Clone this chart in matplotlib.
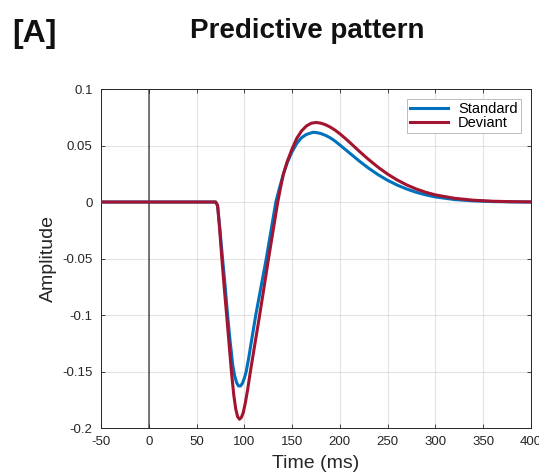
import matplotlib
matplotlib.use("Agg")
import matplotlib.pyplot as plt

plt.rcParams['font.family'] = ['Liberation Sans', 'DejaVu Sans']

# values
t_std = [-50, 0, 50, 70, 72, 74, 77, 80, 82.5, 85, 88, 90, 92, 94, 96, 98, 100,
         102, 104.5, 107, 112, 117.5, 123, 128, 133, 137, 141, 145, 150, 155,
         160, 165, 172, 176, 180, 185, 190, 195, 200, 205, 210, 215, 220, 225,
         230, 240, 250, 260, 270, 280, 290, 300, 320, 340, 360, 380, 400]
amp_std = [0, 0, 0, 0, -0.003, -0.02, -0.048, -0.075, -0.1, -0.122, -0.145,
           -0.154, -0.16, -0.1628, -0.1628, -0.1605, -0.156, -0.15, -0.1385,
           -0.1255, -0.1, -0.075, -0.05, -0.025, 0, 0.013, 0.025, 0.035, 0.0445,
           0.052, 0.057, 0.0598, 0.0617, 0.0614, 0.0606, 0.059, 0.0568, 0.0539,
           0.0505, 0.047, 0.0435, 0.04, 0.0365, 0.0332, 0.03, 0.0242, 0.0192,
           0.015, 0.0115, 0.0086, 0.0063, 0.0045, 0.0022, 0.001, 0.0004,
           0.0001, 0]

t_dev = [-50, 0, 50, 70, 72, 74, 76.5, 79, 81.5, 84, 86.5, 89, 91, 93, 95, 97,
         99, 101, 103.5, 106, 111, 115.5, 120, 125, 130, 135, 138, 141, 145, 150,
         155, 160, 165, 170, 175, 180, 185, 190, 195, 200, 205, 210, 215, 220,
         225, 230, 240, 250, 260, 270, 280, 290, 300, 320, 340, 360, 380, 400]
amp_dev = [0, 0, 0, 0, -0.003, -0.022, -0.05, -0.076, -0.1, -0.125, -0.15,
           -0.171, -0.183, -0.19, -0.1922, -0.1905, -0.186, -0.178, -0.166,
           -0.152, -0.126, -0.103, -0.079, -0.052, -0.026, 0, 0.013, 0.025,
           0.036, 0.047, 0.0565, 0.063, 0.0673, 0.0697, 0.0704, 0.0698, 0.0684,
           0.0663, 0.0636, 0.0604, 0.0568, 0.053, 0.0491, 0.0452, 0.0414,
           0.0377, 0.0308, 0.0247, 0.0195, 0.0151, 0.0115, 0.0086, 0.0063,
           0.0033, 0.0016, 0.0007, 0.0003, 0.0001]

xticks = [-50, 0, 50, 100, 150, 200, 250, 300, 350, 400]
yticks = [-0.2, -0.15, -0.1, -0.05, 0, 0.05, 0.1]
ytick_labels = ['-0.2', '-0.15', '-0.1', '-0.05', '0', '0.05', '0.1']

BLUE = '#0072BD'
RED = '#A2142F'
AXC = '#262626'

fig = plt.figure(figsize=(5.39, 4.75), dpi=100)
ax = fig.add_axes([0.1874, 0.0989, 0.7976, 0.7137])

ax.axvline(0, color='#555555', lw=1.1, zorder=1)
ax.plot(t_std, amp_std, color=BLUE, lw=2.2, label='Standard', zorder=3)
ax.plot(t_dev, amp_dev, color=RED, lw=2.2, label='Deviant', zorder=4)

ax.set_xlim(-50, 400)
ax.set_ylim(-0.2, 0.1)
ax.set_xticks(xticks)
ax.set_xticklabels([str(v) for v in xticks])
ax.set_yticks(yticks)
ax.set_yticklabels(ytick_labels)
ax.grid(True, color='#262626', alpha=0.12, lw=0.8)
ax.tick_params(direction='in', top=True, right=True, length=3, width=0.6,
               labelsize=9.5, colors=AXC)
ax.tick_params(axis='x', pad=6)
ax.tick_params(axis='y', pad=6)
for s in ax.spines.values():
    s.set_color(AXC)
    s.set_linewidth(0.7)

ax.set_xlabel('Time (ms)', fontsize=14, color=AXC, labelpad=5)
ax.set_ylabel('Amplitude', fontsize=14, color=AXC, labelpad=4)

leg = ax.legend(loc='upper right', fontsize=10.5, fancybox=False, framealpha=1,
                edgecolor='#bbbbbb', handlelength=2.6, handletextpad=0.7,
                borderpad=0.2, labelspacing=0.0, borderaxespad=0.7)
leg.get_frame().set_linewidth(0.7)

fig.text(0.022, 0.912, '[A]', fontsize=23, fontweight='bold', color='#111111')
fig.text(0.57, 0.921, 'Predictive pattern', fontsize=20, fontweight='bold',
         color='#111111', ha='center')

fig.savefig('out.png', dpi=100)
